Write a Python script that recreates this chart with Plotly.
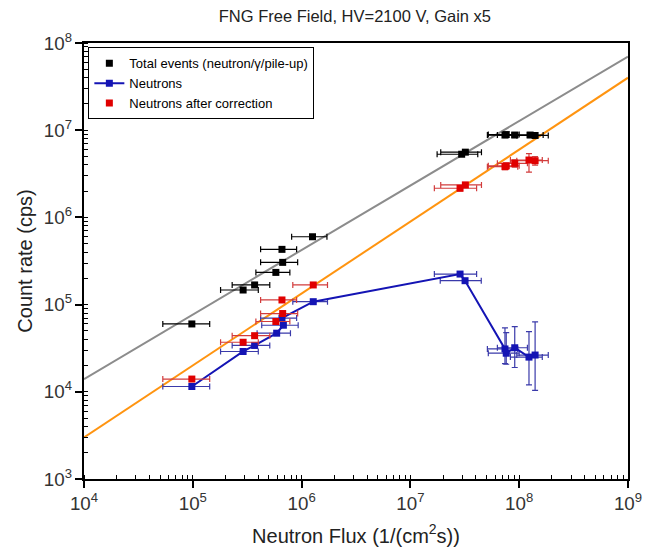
import plotly.graph_objects as go

# ---- data ----
tot_x = [9.8e4, 2.9e5, 3.7e5, 5.8e5, 6.7e5, 6.6e5, 1.26e6, 2.96e7, 3.2e7, 7.4e7, 7.6e7, 9.1e7, 1.26e8, 1.4e8]
tot_y = [6.0e4, 1.47e5, 1.68e5, 2.34e5, 3.05e5, 4.3e5, 6.0e5, 5.3e6, 5.6e6, 8.8e6, 8.9e6, 8.8e6, 8.8e6, 8.7e6]
tot_xerr = [4.5e4, 1.1e5, 1.4e5, 2.0e5, 2.5e5, 2.4e5, 4.5e5, 1.2e7, 1.3e7, 2.3e7, 2.4e7, 2.8e7, 4.0e7, 4.5e7]

neu_x = [9.8e4, 2.9e5, 3.7e5, 5.9e5, 6.8e5, 6.6e5, 1.28e6, 2.86e7, 3.18e7, 7.4e7, 7.6e7, 9.1e7, 1.23e8, 1.4e8]
neu_y = [1.15e4, 2.9e4, 3.4e4, 4.7e4, 5.8e4, 7.0e4, 1.08e5, 2.24e5, 1.88e5, 3.1e4, 2.77e4, 3.2e4, 2.5e4, 2.64e4]
neu_xerr = [4.5e4, 1.1e5, 1.4e5, 2.0e5, 2.5e5, 2.4e5, 4.5e5, 1.2e7, 1.3e7, 2.3e7, 2.4e7, 2.8e7, 4.0e7, 4.5e7]
neu_yerr_p = [0, 0, 0, 0, 0, 0, 0, 0, 0, 2.3e4, 2.0e4, 2.4e4, 2.4e4, 3.7e4]
neu_yerr_m = [0, 0, 0, 0, 0, 0, 0, 0, 0, 1.0e4, 0.7e4, 1.3e4, 1.3e4, 1.6e4]

cor_x = [9.8e4, 2.9e5, 3.7e5, 5.8e5, 6.7e5, 6.6e5, 1.28e6, 2.86e7, 3.2e7, 7.4e7, 7.6e7, 9.1e7, 1.23e8, 1.4e8]
cor_y = [1.4e4, 3.7e4, 4.4e4, 6.4e4, 7.9e4, 1.13e5, 1.68e5, 2.16e6, 2.36e6, 3.82e6, 3.9e6, 4.17e6, 4.55e6, 4.47e6]
cor_xerr = [4.5e4, 1.1e5, 1.4e5, 2.0e5, 2.5e5, 2.4e5, 4.5e5, 1.2e7, 1.3e7, 2.3e7, 2.4e7, 2.8e7, 4.0e7, 4.5e7]
cor_yerr_p = [0, 0, 0, 0, 0, 0, 0, 1.5e5, 1.5e5, 3.0e5, 3.0e5, 4.0e5, 8.5e5, 5.0e5]
cor_yerr_m = [0, 0, 0, 0, 0, 0, 0, 1.5e5, 1.5e5, 3.0e5, 3.0e5, 4.0e5, 1.25e6, 5.0e5]

fit_tot_x = [1e4, 1e9]
fit_tot_y = [1.4e4, 7.0e7]
fit_cor_x = [1e4, 1e9]
fit_cor_y = [3.0e3, 4.0e7]

BLUE = "#1414b4"
RED = "#e00000"

fig = go.Figure()

fig.add_trace(go.Scatter(x=fit_tot_x, y=fit_tot_y, mode="lines",
                         line=dict(color="#8c8c8c", width=2), showlegend=False, hoverinfo="skip"))
fig.add_trace(go.Scatter(x=fit_cor_x, y=fit_cor_y, mode="lines",
                         line=dict(color="#ff9410", width=2), showlegend=False, hoverinfo="skip"))

fig.add_trace(go.Scatter(
    x=tot_x, y=tot_y, mode="markers", name="Total events (neutron/γ/pile-up)",
    marker=dict(symbol="square", size=7, color="black"),
    error_x=dict(type="data", array=tot_xerr, color="black", thickness=1.2, width=3),
))
fig.add_trace(go.Scatter(
    x=neu_x, y=neu_y, mode="lines+markers", name="Neutrons",
    line=dict(color=BLUE, width=2),
    marker=dict(symbol="square", size=7, color=BLUE),
    error_x=dict(type="data", array=neu_xerr, color="#3a3aaa", thickness=1.2, width=3),
    error_y=dict(type="data", symmetric=False, array=neu_yerr_p, arrayminus=neu_yerr_m,
                 color="#3a3aaa", thickness=1.2, width=3),
))
fig.add_trace(go.Scatter(
    x=cor_x, y=cor_y, mode="markers", name="Neutrons after correction",
    marker=dict(symbol="square", size=7, color=RED),
    error_x=dict(type="data", array=cor_xerr, color="#d23c3c", thickness=1.2, width=3),
    error_y=dict(type="data", symmetric=False, array=cor_yerr_p, arrayminus=cor_yerr_m,
                 color="#d23c3c", thickness=1.2, width=3),
))

axis_common = dict(
    type="log", dtick=1, exponentformat="power", showexponent="all",
    showgrid=False, zeroline=False,
    showline=True, linecolor="black", linewidth=2, mirror=True,
    ticks="outside", ticklen=7, tickwidth=1.5, tickcolor="black",
    tickfont=dict(family="Liberation Sans, Arial", size=15, color="#333333"),
    minor=dict(ticks="inside", ticklen=4, tickwidth=1, tickcolor="black", dtick="D1", showgrid=False),
)

fig.update_layout(
    width=657, height=555,
    paper_bgcolor="white", plot_bgcolor="white",
    margin=dict(l=76, r=37, t=35, b=84, autoexpand=False),
    font=dict(family="Liberation Sans, Arial", color="#222222"),
    title=dict(text="FNG Free Field, HV=2100 V, Gain x5", x=0.528, xanchor="center",
               y=0.985, yanchor="middle", font=dict(size=16.5, color="#222222")),
    xaxis=dict(axis_common, range=[4, 9],
               title=dict(text="Neutron Flux (1/(cm<sup>2</sup>s))", font=dict(size=20, color="#222222"),
                          standoff=16)),
    yaxis=dict(axis_common, range=[3, 8],
               title=dict(text="Count rate (cps)", font=dict(size=20, color="#222222"), standoff=6)),
    legend=dict(x=0.008, y=0.99, xanchor="left", yanchor="top",
                bgcolor="white", bordercolor="black", borderwidth=1,
                font=dict(size=13, color="black"), tracegroupgap=0, itemwidth=30),
)

fig.write_html("out.html")
